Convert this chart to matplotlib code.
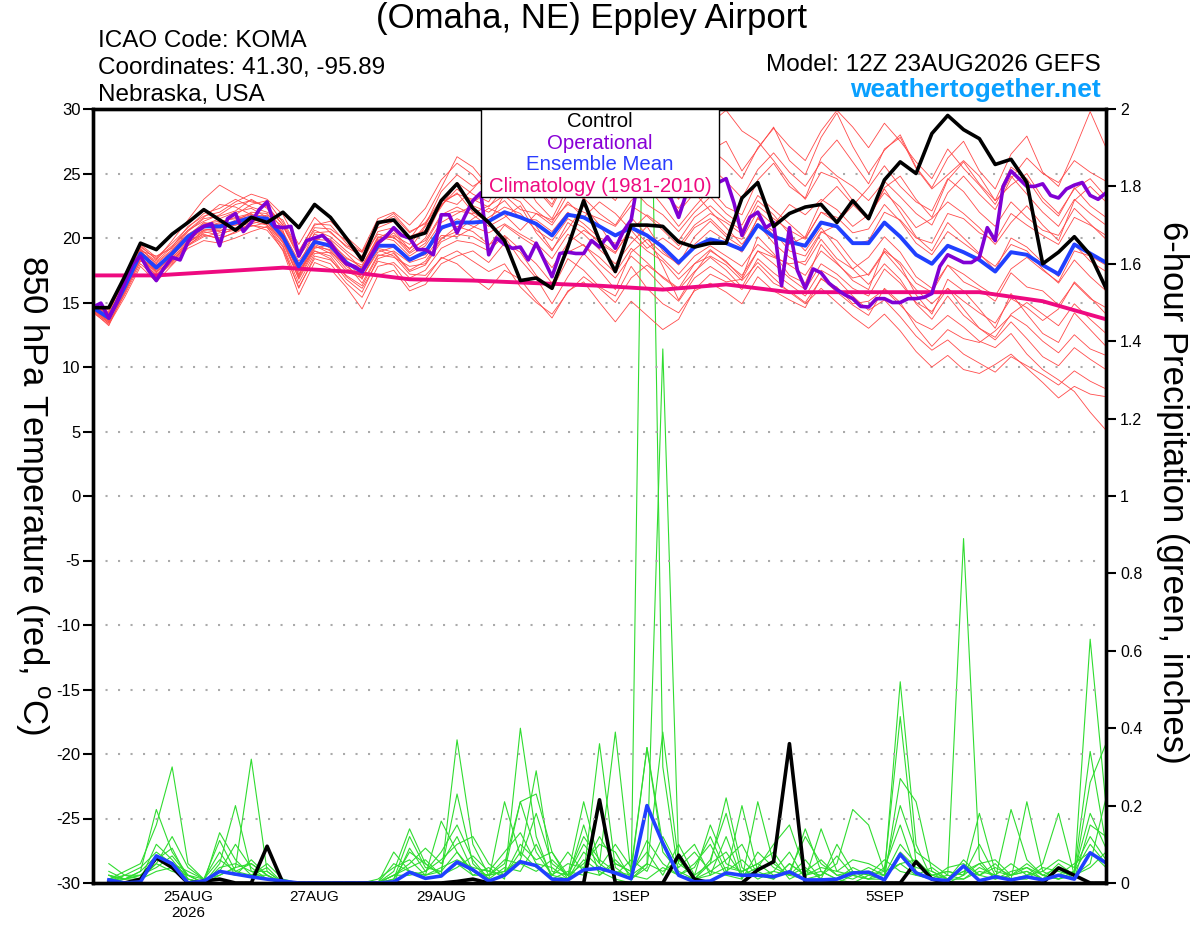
import numpy as np
import pandas as pd
import matplotlib
matplotlib.use("Agg")
import matplotlib.pyplot as plt
from matplotlib.patches import Rectangle

plt.rcParams['font.family'] = ['Liberation Sans', 'DejaVu Sans']
plt.rcParams['axes.unicode_minus'] = False

# time axes: GEFS 6-hourly, operational 3-hourly, from 12Z 23 Aug 2026
times = pd.date_range("2026-08-23 12:00", periods=65, freq="6h")
op_times = pd.date_range("2026-08-23 12:00", periods=129, freq="3h")
ptimes = times[1:]
clim_times = times[::4]

tick_dates = pd.to_datetime(["2026-08-25", "2026-08-27", "2026-08-29", "2026-09-01",
                             "2026-09-03", "2026-09-05", "2026-09-07"])
tick_labels = ["25AUG\n2026", "27AUG", "29AUG", "1SEP", "3SEP", "5SEP", "7SEP"]

# 850 hPa temperature (C)
control = [14.6, 14.6, 17.0, 19.6, 19.1, 20.3, 21.2, 22.2,
           21.4, 20.6, 21.6, 21.2, 22.0, 20.8, 22.6, 21.6,
           20.0, 18.3, 21.2, 21.4, 20.0, 20.4, 22.9, 24.2,
           22.3, 21.2, 19.8, 16.7, 16.9, 16.1, 19.3, 22.9,
           19.8, 17.4, 21.0, 21.0, 20.9, 19.7, 19.3, 19.6,
           19.6, 23.1, 24.3, 20.9, 21.9, 22.4, 22.6, 21.2,
           22.9, 21.5, 24.5, 25.9, 25.0, 28.1, 29.5, 28.4,
           27.7, 25.7, 26.1, 24.3, 18.0, 18.9, 20.1, 18.7, 16.1]

ens_mean = [14.6, 13.8, 16.2, 18.8, 17.7, 18.8, 20.1, 20.9,
            20.9, 21.2, 21.6, 21.5, 20.1, 17.8, 19.7, 19.4,
            18.1, 17.4, 19.4, 19.4, 18.3, 18.9, 20.8, 21.2,
            21.2, 21.3, 22.0, 21.6, 21.1, 20.2, 21.8, 21.6,
            20.9, 20.2, 20.8, 20.2, 19.3, 18.1, 19.3, 19.9,
            19.6, 19.1, 21.0, 20.1, 19.7, 19.4, 21.2, 20.9,
            19.6, 19.6, 21.2, 20.1, 18.7, 18.0, 19.4, 18.9,
            18.3, 17.4, 18.9, 18.7, 17.9, 17.2, 19.5, 18.8, 18.1]

operational = [14.65, 14.95, 13.8, 15.0, 16.5, 18.0, 18.6, 17.5, 16.7, 17.7,
               18.5, 18.3, 19.7, 20.5, 20.9, 21.1, 19.4, 21.5, 21.9, 20.5,
               21.2, 22.2, 22.8, 20.9, 20.8, 20.9, 18.6, 19.8, 20.0, 20.2,
               19.6, 18.7, 18.0, 17.8, 17.4, 18.5, 19.6, 20.1, 20.8, 20.2,
               20.0, 19.1, 19.1, 18.7, 21.8, 21.8, 20.4, 21.7, 22.9, 23.5,
               18.7, 20.0, 19.5, 19.2, 19.3, 18.3, 19.6, 18.3, 17.0, 18.8,
               18.9, 18.8, 18.8, 19.8, 19.3, 20.1, 19.2, 20.5, 21.4, 25.0,
               26.5, 25.5, 23.5, 23.1, 21.6, 23.5, 24.5, 25.0, 24.5, 24.3,
               24.6, 22.7, 20.2, 21.6, 22.0, 20.8, 21.2, 16.3, 20.8, 17.5,
               16.1, 17.6, 17.3, 16.5, 16.0, 15.6, 15.3, 14.7, 14.65, 15.3,
               15.3, 15.0, 15.0, 15.3, 15.3, 15.4, 15.7, 17.8, 18.7, 18.4,
               18.1, 18.1, 18.5, 20.8, 19.8, 24.0, 25.2, 24.6, 24.0, 24.0,
               24.2, 23.3, 23.1, 23.8, 24.1, 24.3, 23.3, 23.0, 23.5]

climatology = [17.1, 17.1, 17.4, 17.7, 17.4, 16.8, 16.7, 16.5, 16.3,
               16.0, 16.4, 15.8, 15.8, 15.8, 15.8, 15.1, 13.7]

temp_members = [
    [14.8, 14.2, 16.8, 19.5, 18.5, 19.6, 20.8, 21.9, 22.3, 23.0, 22.4, 22.0, 21.4, 19.0, 21.0, 21.3,
     20.1, 19.0, 21.5, 22.0, 21.0, 22.3, 24.5, 25.8, 24.9, 23.5, 24.6, 25.9, 23.8, 22.4, 24.8, 26.1,
     25.0, 23.2, 24.8, 26.5, 24.1, 22.0, 24.5, 26.8, 27.5, 25.2, 26.9, 28.6, 26.0, 24.9, 27.8, 29.7,
     27.1, 25.0, 26.8, 28.0, 25.5, 23.9, 26.2, 27.5, 25.2, 23.8, 26.5, 27.9, 25.1, 24.0, 26.8, 29.8, 27.0],
    [14.3, 13.4, 15.6, 18.0, 16.9, 18.2, 19.5, 20.2, 20.0, 20.4, 21.0, 20.6, 19.1, 16.2, 18.4, 18.0,
     16.5, 15.4, 17.8, 18.1, 16.9, 17.5, 19.2, 19.8, 19.6, 19.0, 20.2, 19.1, 18.0, 16.5, 18.9, 19.5,
     18.0, 16.9, 18.6, 17.5, 16.2, 15.1, 16.9, 17.8, 17.0, 16.0, 17.8, 16.5, 15.9, 15.0, 16.8, 16.2,
     14.9, 15.1, 16.0, 14.8, 13.5, 12.9, 14.0, 13.1, 12.0, 11.5, 12.6, 11.0, 9.8, 9.0, 8.1, 6.5, 5.1],
    [14.5, 13.9, 16.5, 19.2, 18.0, 19.0, 20.5, 21.5, 21.7, 22.1, 23.0, 22.3, 20.6, 17.0, 19.9, 19.8,
     18.3, 16.8, 19.5, 20.4, 18.9, 20.0, 22.6, 23.5, 22.0, 21.2, 23.4, 22.8, 20.9, 19.1, 20.7, 22.5,
     21.0, 19.1, 21.6, 20.2, 17.8, 15.2, 17.3, 19.0, 18.2, 16.9, 20.1, 18.8, 17.1, 16.5, 19.5, 18.1,
     16.7, 16.0, 19.2, 17.9, 15.6, 14.1, 16.8, 15.9, 14.5, 13.0, 15.7, 14.1, 12.6, 11.9, 14.2, 12.9, 11.6],
    [14.9, 14.0, 16.0, 18.5, 17.5, 18.6, 19.9, 20.6, 20.8, 21.0, 21.4, 21.2, 19.8, 17.4, 19.5, 19.0,
     17.6, 17.2, 19.8, 20.2, 19.5, 21.0, 23.6, 24.9, 24.0, 24.8, 26.2, 25.0, 23.9, 22.6, 25.1, 26.7,
     25.2, 23.6, 26.0, 27.4, 26.1, 24.8, 27.0, 28.9, 29.9, 28.3, 27.5, 26.0, 24.3, 23.0, 25.1, 24.6,
     22.9, 21.5, 23.8, 22.0, 20.1, 19.0, 21.2, 20.0, 18.8, 17.5, 20.0, 19.3, 18.1, 17.0, 19.5, 18.2, 17.4],
    [14.4, 13.5, 16.1, 18.7, 17.8, 18.9, 20.0, 20.7, 20.5, 21.3, 22.0, 21.9, 20.3, 17.5, 19.0, 18.6,
     17.0, 16.1, 18.2, 17.9, 16.2, 16.8, 18.5, 18.0, 16.9, 16.0, 17.5, 16.8, 15.2, 13.8, 15.9, 16.6,
     15.0, 13.5, 15.1, 14.0, 12.9, 13.7, 16.0, 17.2, 16.6, 16.8, 19.0, 18.5, 18.0, 18.2, 20.4, 21.0,
     19.5, 19.8, 22.0, 21.4, 20.0, 19.6, 21.9, 21.5, 20.4, 19.8, 21.9, 21.0, 20.2, 19.5, 21.6, 21.0, 20.2],
    [14.7, 13.7, 16.4, 19.0, 17.3, 18.4, 19.8, 20.8, 21.2, 21.6, 21.9, 21.0, 19.4, 16.5, 18.8, 18.9,
     17.9, 17.8, 20.1, 19.8, 18.6, 19.4, 21.2, 21.9, 22.5, 22.0, 22.9, 21.5, 21.4, 20.5, 22.0, 21.1,
     20.0, 19.6, 20.1, 19.0, 18.2, 16.8, 18.0, 18.6, 17.9, 16.7, 18.1, 16.9, 15.8, 14.9, 16.1, 15.0,
     13.9, 13.0, 14.1, 12.8, 11.2, 10.0, 10.9, 9.8, 9.5, 10.2, 11.0, 9.9, 8.8, 7.6, 8.5, 7.9, 7.7],
    [14.6, 14.3, 16.9, 19.4, 18.3, 19.8, 21.4, 23.0, 24.1, 23.4, 22.8, 22.5, 21.0, 18.8, 20.6, 20.1,
     19.0, 18.1, 20.5, 20.8, 19.9, 21.6, 23.9, 26.3, 25.5, 24.0, 23.6, 24.9, 22.8, 21.5, 23.9, 23.1,
     21.9, 21.0, 22.9, 24.0, 22.5, 20.9, 22.4, 23.8, 22.4, 21.8, 24.5, 25.8, 24.0, 23.1, 26.2, 27.6,
     25.9, 24.2, 26.9, 27.8, 25.4, 23.8, 24.9, 26.0, 24.8, 22.9, 24.1, 25.0, 23.1, 21.9, 23.8, 24.6, 23.2],
    [14.5, 13.6, 15.8, 18.2, 17.9, 18.5, 19.6, 20.5, 20.2, 20.8, 21.2, 21.8, 20.9, 18.5, 20.3, 19.9,
     18.8, 17.6, 19.2, 18.9, 17.5, 18.2, 20.0, 20.5, 21.5, 22.3, 21.8, 20.6, 21.9, 21.0, 22.8, 21.6,
     22.8, 21.9, 20.6, 19.2, 20.0, 19.1, 20.8, 21.5, 20.3, 19.9, 22.1, 21.0, 22.6, 21.8, 23.0, 22.2,
     20.9, 21.8, 23.5, 22.4, 20.8, 21.5, 22.8, 21.9, 20.8, 19.5, 21.2, 22.5, 21.0, 19.8, 22.9, 24.0, 22.8],
    [14.2, 13.3, 15.4, 17.8, 16.6, 17.9, 19.2, 19.8, 19.6, 20.0, 20.5, 20.9, 19.0, 15.6, 18.1, 17.6,
     16.2, 14.5, 17.1, 17.5, 15.9, 16.4, 18.0, 18.6, 19.0, 18.1, 19.6, 18.9, 17.1, 16.0, 18.4, 17.5,
     16.2, 15.5, 17.8, 16.1, 14.9, 14.2, 15.9, 16.5, 15.8, 14.9, 17.0, 15.9, 15.2, 14.6, 16.9, 15.8,
     14.8, 14.0, 16.1, 15.0, 13.1, 11.6, 12.9, 12.2, 11.9, 12.8, 14.0, 13.2, 12.0, 11.1, 12.5, 11.4, 10.9],
    [14.8, 14.1, 16.3, 18.9, 18.1, 19.1, 20.3, 21.0, 21.5, 22.0, 22.3, 21.6, 20.5, 18.2, 19.9, 19.2,
     18.4, 17.9, 20.0, 20.6, 19.1, 20.9, 22.5, 23.8, 22.8, 23.5, 25.0, 24.1, 23.2, 24.6, 26.8, 27.9,
     26.5, 27.8, 28.9, 26.1, 24.0, 22.0, 23.5, 22.1, 20.8, 19.5, 21.1, 19.6, 18.5, 17.9, 19.9, 18.4,
     17.6, 18.5, 20.1, 18.9, 17.0, 16.1, 17.9, 16.6, 16.0, 15.1, 17.3, 16.2, 15.9, 14.8, 16.5, 15.3, 14.6],
    [14.6, 13.9, 16.6, 19.1, 17.6, 18.7, 20.2, 21.2, 21.0, 21.8, 22.6, 22.9, 21.2, 18.9, 21.1, 21.0,
     19.6, 18.4, 20.3, 20.0, 19.2, 19.8, 21.8, 22.4, 21.8, 20.9, 21.6, 22.5, 20.4, 19.0, 21.2, 20.3,
     19.1, 18.0, 19.6, 20.9, 19.0, 17.9, 19.5, 20.6, 19.8, 18.9, 21.6, 20.2, 19.5, 20.1, 22.8, 24.0,
     22.6, 21.4, 23.9, 24.8, 23.0, 21.6, 24.5, 25.9, 24.2, 22.9, 25.5, 24.6, 22.8, 21.7, 23.9, 22.5, 21.6],
    [14.3, 13.2, 15.9, 18.4, 17.4, 18.2, 19.4, 20.4, 20.6, 20.7, 20.9, 21.2, 19.6, 16.9, 19.2, 19.5,
     18.0, 16.5, 18.7, 18.5, 17.8, 18.0, 19.9, 20.9, 20.5, 19.5, 20.1, 18.3, 16.9, 14.9, 17.0, 18.8,
     17.5, 16.0, 18.9, 19.9, 18.8, 18.0, 20.1, 21.3, 20.1, 19.3, 21.5, 20.5, 19.0, 18.6, 20.5, 19.8,
     18.2, 17.1, 18.9, 17.5, 16.0, 14.9, 16.1, 14.5, 13.0, 12.1, 13.5, 12.2, 10.8, 10.1, 11.5, 10.6, 9.8],
    [14.9, 14.4, 16.7, 19.3, 18.4, 19.4, 20.6, 21.6, 22.6, 22.4, 21.8, 21.4, 20.0, 17.9, 20.4, 20.5,
     19.3, 18.6, 21.0, 21.7, 20.4, 21.2, 23.0, 22.6, 23.8, 25.2, 26.4, 25.1, 24.6, 23.0, 24.3, 23.0,
     24.2, 25.1, 23.9, 22.6, 21.8, 20.5, 22.0, 23.2, 21.9, 21.0, 23.3, 22.2, 21.1, 20.0, 22.0, 21.2,
     22.5, 23.9, 25.6, 24.0, 22.8, 22.1, 24.6, 23.6, 22.0, 20.9, 22.8, 21.6, 20.6, 20.2, 22.3, 21.1, 19.9],
    [14.4, 13.7, 16.0, 18.6, 17.2, 18.1, 19.7, 20.3, 19.9, 20.5, 21.0, 20.8, 19.3, 16.1, 18.6, 18.3,
     17.1, 16.3, 18.6, 19.0, 18.1, 18.5, 20.2, 20.1, 20.8, 21.6, 22.4, 21.9, 20.6, 19.8, 21.5, 20.8,
     19.6, 18.8, 20.9, 19.6, 18.4, 17.2, 18.6, 19.4, 18.6, 17.8, 19.5, 18.6, 17.9, 17.1, 19.0, 18.0,
     16.9, 17.2, 19.0, 18.1, 16.5, 15.8, 17.9, 17.2, 16.3, 15.5, 17.6, 18.5, 17.5, 16.6, 19.0, 18.6, 17.9],
    [14.7, 14.0, 16.5, 19.1, 18.2, 19.3, 20.9, 21.7, 22.0, 22.8, 23.4, 23.0, 21.8, 19.5, 21.6, 20.4,
     19.4, 18.9, 21.1, 21.9, 20.5, 21.1, 22.8, 23.4, 23.0, 22.4, 23.9, 23.3, 22.1, 21.2, 23.4, 24.8,
     24.0, 22.9, 24.9, 25.9, 24.6, 23.0, 25.4, 26.9, 25.9, 24.6, 27.0, 28.5, 27.1, 26.0, 28.3, 29.9,
     28.6, 27.0, 28.9, 27.5, 25.9, 24.6, 26.9, 25.4, 24.1, 22.6, 24.8, 23.4, 22.0, 20.9, 23.0, 21.9, 21.0],
    [14.5, 13.5, 16.2, 18.6, 17.0, 18.0, 19.4, 20.1, 20.4, 20.6, 21.1, 21.4, 20.2, 17.2, 19.4, 18.8,
     17.4, 16.9, 19.1, 18.6, 17.2, 17.1, 18.4, 19.0, 18.2, 17.4, 18.0, 16.2, 15.0, 14.1, 15.8, 17.0,
     16.1, 15.0, 16.9, 17.9, 17.0, 16.1, 18.0, 19.1, 18.1, 17.1, 19.0, 18.0, 16.9, 16.0, 18.0, 17.2,
     16.1, 15.5, 17.6, 16.5, 15.0, 14.3, 16.1, 15.1, 14.2, 13.4, 15.3, 14.6, 13.6, 14.5, 16.6, 15.4, 14.1],
    [14.6, 13.8, 16.0, 18.9, 17.9, 18.7, 20.0, 21.1, 21.3, 21.5, 21.8, 21.7, 20.4, 18.0, 19.6, 19.6,
     18.5, 17.7, 19.9, 20.1, 18.8, 19.6, 21.7, 22.1, 21.9, 22.5, 23.3, 22.2, 21.9, 21.4, 22.6, 22.0,
     21.5, 20.9, 22.5, 21.7, 20.6, 19.4, 21.0, 21.9, 21.2, 20.3, 22.5, 21.5, 20.6, 19.9, 22.0, 21.6,
     20.4, 20.7, 22.6, 21.3, 19.6, 18.7, 20.5, 19.6, 18.7, 17.8, 19.5, 19.0, 17.6, 16.5, 18.3, 17.0, 15.9],
    [14.5, 13.6, 16.3, 18.9, 17.4, 18.6, 20.0, 20.9, 21.1, 21.0, 21.3, 21.0, 19.7, 17.1, 19.3, 19.1,
     17.8, 17.0, 18.9, 19.3, 18.4, 18.7, 20.6, 21.5, 20.9, 20.4, 21.1, 20.3, 19.6, 18.4, 20.3, 19.4,
     18.5, 17.3, 19.2, 18.1, 16.9, 16.0, 17.4, 18.5, 17.5, 16.2, 18.4, 17.3, 16.4, 15.5, 17.5, 16.8,
     15.5, 14.4, 15.2, 13.9, 12.4, 11.3, 12.1, 11.0, 10.3, 9.6, 10.8, 10.1, 9.4, 8.6, 9.7, 8.9, 8.3],
    [14.7, 14.1, 16.6, 19.0, 18.6, 19.2, 20.6, 21.3, 21.8, 22.6, 22.9, 22.4, 21.0, 18.6, 20.8, 20.7,
     19.8, 18.9, 20.8, 21.3, 20.1, 20.6, 22.4, 24.3, 23.4, 22.8, 24.9, 26.5, 24.8, 23.6, 25.7, 24.6,
     23.2, 24.4, 26.8, 25.1, 23.5, 22.3, 24.2, 25.5, 24.4, 23.1, 25.3, 26.6, 25.1, 24.0, 25.9, 24.8,
     24.0, 22.9, 24.4, 23.2, 21.9, 21.0, 23.5, 24.8, 23.4, 22.2, 24.6, 26.2, 25.0, 24.3, 26.0, 25.1, 24.4],
    [14.4, 13.4, 15.7, 18.3, 17.1, 18.3, 19.6, 20.6, 20.7, 21.4, 21.7, 21.3, 19.9, 16.8, 19.0, 18.4,
     16.8, 15.8, 18.4, 18.8, 17.4, 17.9, 19.7, 20.3, 20.1, 19.4, 21.0, 20.1, 19.3, 17.7, 19.6, 20.6,
     19.8, 18.9, 20.6, 21.8, 20.9, 19.8, 21.6, 22.5, 21.4, 20.6, 22.9, 21.8, 20.3, 19.0, 20.8, 19.2,
     17.6, 16.4, 18.0, 16.8, 14.9, 13.7, 15.5, 14.0, 13.0, 12.3, 14.1, 15.0, 14.1, 13.2, 14.9, 13.7, 12.6],
]

# 6-hour precipitation (inches), valid from 18Z 23 Aug
precip_control = [0, 0, 0.01, 0.065, 0.04, 0, 0.005, 0.01,
                  0, 0, 0.095, 0, 0, 0, 0, 0,
                  0, 0, 0, 0, 0, 0, 0.004, 0.01,
                  0, 0, 0, 0, 0, 0, 0, 0.215,
                  0, 0, 0, 0, 0.072, 0.01, 0, 0,
                  0, 0.034, 0.055, 0.36, 0, 0, 0, 0,
                  0, 0, 0, 0.055, 0.01, 0, 0, 0,
                  0, 0, 0, 0, 0.039, 0.02, 0, 0]

precip_mean = [0.008, 0.0, 0.003, 0.07, 0.05, 0.0, 0.005, 0.03,
               0.023, 0.016, 0.01, 0.005, 0.0, 0.0, 0.0, 0.0,
               0.0, 0.0, 0.003, 0.028, 0.012, 0.018, 0.054, 0.034,
               0.005, 0.02, 0.055, 0.045, 0.01, 0.008, 0.034, 0.038,
               0.026, 0.011, 0.2, 0.103, 0.02, 0.003, 0.005, 0.026,
               0.02, 0.02, 0.016, 0.029, 0.008, 0.008, 0.01, 0.026,
               0.028, 0.008, 0.074, 0.026, 0.01, 0.006, 0.044, 0.006,
               0.016, 0.008, 0.016, 0.008, 0.02, 0.01, 0.078, 0.052]

precip_members = [
    [0.02, 0.01, 0.03, 0.19, 0.08, 0.02, 0, 0.05, 0.2, 0.03, 0.01, 0, 0, 0, 0, 0,
     0, 0, 0.03, 0.14, 0.05, 0.02, 0.37, 0.1, 0.02, 0.05, 0.21, 0.08, 0.02, 0.01, 0.06, 0.03,
     0.01, 0, 2.8, 0.3, 0.02, 0.01, 0.05, 0.22, 0.04, 0.01, 0.03, 0.02, 0.06, 0.01, 0, 0.02,
     0.01, 0.02, 0.52, 0.1, 0.01, 0, 0.02, 0.05, 0.01, 0.03, 0.04, 0.01, 0.02, 0.03, 0.34, 0.1],
    [0.01, 0.03, 0.05, 0.15, 0.3, 0.05, 0.01, 0.02, 0.04, 0.32, 0.03, 0, 0, 0, 0, 0,
     0, 0, 0.08, 0.03, 0.02, 0.16, 0.08, 0.02, 0.04, 0.01, 0.4, 0.12, 0.01, 0.03, 0.02, 0.36,
     0.04, 0.01, 0.05, 1.38, 0.06, 0.01, 0.03, 0.02, 0.2, 0.03, 0.01, 0.05, 0.02, 0.03, 0.01, 0,
     0.02, 0.03, 0.43, 0.05, 0.02, 0.01, 0.03, 0.02, 0.05, 0.01, 0.21, 0.03, 0.01, 0.02, 0.63, 0.2],
    [0.05, 0.02, 0.01, 0.1, 0.06, 0.01, 0, 0.13, 0.06, 0.02, 0.05, 0.01, 0, 0, 0, 0,
     0, 0, 0.01, 0.12, 0.04, 0.03, 0.23, 0.05, 0.01, 0.21, 0.07, 0.29, 0.03, 0.02, 0.21, 0.05,
     0.39, 0.02, 0.01, 0.04, 0.02, 0.05, 0.1, 0.02, 0.01, 0.21, 0.05, 0.02, 0.01, 0.14, 0.03, 0.02,
     0.01, 0.01, 0.27, 0.21, 0.03, 0.01, 0.01, 0.04, 0.02, 0.01, 0.02, 0.05, 0.18, 0.02, 0.26, 0.36],
    [0, 0.02, 0.04, 0.08, 0.05, 0.02, 0.01, 0.11, 0.03, 0.05, 0.02, 0, 0, 0, 0, 0,
     0, 0, 0.02, 0.05, 0.09, 0.05, 0.12, 0.03, 0.02, 0.03, 0.21, 0.23, 0.08, 0.01, 0.15, 0.02,
     0.05, 0.03, 0.35, 0.1, 0.02, 0.01, 0.06, 0.18, 0.02, 0.04, 0.1, 0.15, 0.03, 0.02, 0.05, 0.19,
     0.15, 0.03, 0.05, 0.02, 0.01, 0.02, 0.89, 0.06, 0.01, 0.02, 0.03, 0.01, 0.02, 0.05, 0.08, 0.04],
    [0.02, 0.01, 0.02, 0.06, 0.09, 0.01, 0, 0.03, 0.1, 0.04, 0.01, 0, 0, 0, 0, 0,
     0, 0, 0, 0.09, 0.03, 0.06, 0.1, 0.12, 0.05, 0.02, 0.1, 0.06, 0.08, 0.02, 0.05, 0.1,
     0.08, 0.01, 0.04, 0.39, 0.05, 0.02, 0.15, 0.05, 0.03, 0.05, 0.02, 0.03, 0.12, 0.05, 0.02, 0.01,
     0.03, 0.02, 0.1, 0.05, 0.02, 0.03, 0.02, 0.18, 0.03, 0.02, 0.05, 0.02, 0.04, 0.01, 0.15, 0.12],
    [0.03, 0.01, 0.01, 0.05, 0.12, 0.04, 0.01, 0.08, 0.02, 0.06, 0.02, 0, 0, 0, 0, 0,
     0, 0, 0.05, 0.03, 0.02, 0.04, 0.06, 0.04, 0.03, 0.08, 0.13, 0.05, 0.04, 0.01, 0.08, 0.04,
     0.1, 0.04, 0.35, 0.08, 0.03, 0.01, 0.02, 0.12, 0.01, 0.08, 0.04, 0.02, 0.14, 0.03, 0.01, 0.04,
     0.02, 0.01, 0.08, 0.04, 0.03, 0.01, 0.06, 0.02, 0.01, 0.19, 0.06, 0.02, 0.01, 0.03, 0.1, 0.05],
    [0.01, 0.02, 0.02, 0.04, 0.07, 0.02, 0, 0.04, 0.05, 0.03, 0.03, 0, 0, 0, 0, 0,
     0, 0, 0.01, 0.08, 0.05, 0.02, 0.05, 0.02, 0.02, 0.03, 0.06, 0.18, 0.05, 0.02, 0.12, 0.06,
     0.03, 0.02, 0.11, 0.05, 0.02, 0.04, 0.12, 0.03, 0.06, 0.02, 0.01, 0.05, 0.02, 0.04, 0.03, 0.06,
     0.05, 0.03, 0.2, 0.08, 0.05, 0.02, 0.01, 0.03, 0.02, 0.01, 0.01, 0.04, 0.03, 0.02, 0.05, 0.22],
    [0, 0.01, 0.03, 0.07, 0.05, 0.03, 0.01, 0.06, 0.03, 0.02, 0.02, 0, 0, 0, 0, 0,
     0, 0, 0.02, 0.02, 0.03, 0.08, 0.15, 0.06, 0.01, 0.04, 0.03, 0.1, 0.02, 0.05, 0.04, 0.12,
     0.05, 0.03, 0.08, 0.02, 0.1, 0.02, 0.05, 0.08, 0.02, 0.03, 0.06, 0.01, 0.03, 0.06, 0.02, 0.03,
     0.01, 0.04, 0.15, 0.03, 0.01, 0.04, 0.05, 0.02, 0.04, 0.02, 0.03, 0.01, 0.05, 0.02, 0.04, 0.08],
    [0.02, 0, 0.01, 0.03, 0.04, 0.01, 0, 0.02, 0.04, 0.05, 0.02, 0, 0, 0, 0, 0,
     0, 0.01, 0.04, 0.06, 0.02, 0.03, 0.08, 0.03, 0.02, 0.06, 0.05, 0.03, 0.06, 0.02, 0.1, 0.05,
     0.02, 0.06, 0.03, 0.12, 0.04, 0.08, 0.03, 0.06, 0.1, 0.02, 0.03, 0.08, 0.01, 0.02, 0.07, 0.02,
     0.04, 0.02, 0.05, 0.06, 0.02, 0.03, 0.02, 0.1, 0.02, 0.05, 0.02, 0.03, 0.06, 0.04, 0.12, 0.06],
    [0.01, 0.01, 0.02, 0.05, 0.03, 0.02, 0, 0.03, 0.02, 0.02, 0.04, 0, 0, 0, 0, 0,
     0, 0, 0.02, 0.04, 0.06, 0.02, 0.04, 0.07, 0.03, 0.02, 0.08, 0.04, 0.02, 0.08, 0.03, 0.02,
     0.06, 0.02, 0.05, 0.03, 0.06, 0.1, 0.02, 0.04, 0.03, 0.05, 0.08, 0.02, 0.04, 0.01, 0.1, 0.03,
     0.02, 0.06, 0.03, 0.02, 0.04, 0.01, 0.03, 0.05, 0.06, 0.02, 0.04, 0.02, 0.01, 0.03, 0.18, 0.09],
]

prec_ticks = [0, 0.2, 0.4, 0.6, 0.8, 1.0, 1.2, 1.4, 1.6, 1.8, 2.0]
temp_ticks = list(range(-30, 31, 5))

legend_labels = ["Control", "Operational", "Ensemble Mean", "Climatology (1981-2010)"]
legend_colors = ["black", "#8800d6", "#2a3cff", "#ee0a80"]

# ---- figure ----
fig = plt.figure(figsize=(12, 9.27), dpi=100)
ax = fig.add_axes([93 / 1200, 44 / 927, 1013 / 1200, 774 / 927])
ax2 = ax.twinx()
ax.set_zorder(ax2.get_zorder() + 1)
ax.patch.set_visible(False)

# precipitation (right axis, drawn underneath)
for m in precip_members:
    ax2.plot(ptimes, m, color="#30dc30", lw=0.8)
ax2.plot(ptimes, precip_control, color="black", lw=2.6)
ax2.plot(ptimes, precip_mean, color="#2040ff", lw=2.6)

# temperature (left axis)
for m in temp_members:
    ax.plot(times, m, color="#ff4a4a", lw=0.6)
ax.plot(clim_times, climatology, color="#ee0a80", lw=2.8)
ax.plot(times, ens_mean, color="#2040ff", lw=2.8)
ax.plot(op_times, operational, color="#8000d4", lw=2.6)
ax.plot(times, control, color="black", lw=2.6)

ax.set_xlim(times[0], times[-1])
ax.set_ylim(-30, 30)
ax2.set_ylim(0, 2)

ax.set_yticks(temp_ticks)
ax.tick_params(axis="y", direction="out", length=7, width=1.5, labelsize=12, pad=2)
ax.set_xticks(tick_dates)
ax.set_xticklabels(tick_labels)
ax.tick_params(axis="x", length=0, labelsize=11, pad=5)
ax.grid(axis="y", linestyle=(0, (1, 5)), color="#aaaaaa", lw=1.5)

ax2.set_yticks(prec_ticks)
ax2.set_yticklabels([f"{v:g}" for v in prec_ticks])
ax2.tick_params(axis="y", direction="out", length=7, width=1.5, labelsize=11.5, pad=3)

for a in (ax, ax2):
    for s in a.spines.values():
        s.set_linewidth(2.4)

# legend box
ax.add_patch(Rectangle((0.383, 0.886), 0.235, 0.114, transform=ax.transAxes,
                       facecolor="white", edgecolor="black", lw=1.0, zorder=10))
for k, (lab, col) in enumerate(zip(legend_labels, legend_colors)):
    ax.text(0.5005, 0.9767 - k * 0.0279, lab, color=col, fontsize=14.7,
            ha="center", va="baseline", transform=ax.transAxes, zorder=11)

# header texts
fig.text(0.4925, 0.9698, "(Omaha, NE) Eppley Airport", ha="center", va="baseline", fontsize=25)
fig.text(0.0817, 0.9493, "ICAO Code: KOMA", ha="left", va="baseline", fontsize=17.5)
fig.text(0.0817, 0.9202, "Coordinates: 41.30, -95.89", ha="left", va="baseline", fontsize=17.5)
fig.text(0.0817, 0.8910, "Nebraska, USA", ha="left", va="baseline", fontsize=17.5)
fig.text(0.9175, 0.9234, "Model: 12Z 23AUG2026 GEFS", ha="right", va="baseline", fontsize=17.5)
fig.text(0.9175, 0.8954, "weathertogether.net", ha="right", va="baseline", fontsize=19,
         fontweight="bold", color="#0aa0ff")

# axis titles (both read top to bottom)
fig.text(32 / 1200, 1 - 495 / 927, r"850 hPa Temperature (red, $^\mathregular{o}$C)",
         rotation=-90, ha="center", va="center", fontsize=25)
fig.text(1172 / 1200, 1 - 492 / 927, "6-hour Precipitation (green, inches)",
         rotation=-90, ha="center", va="center", fontsize=25)

fig.savefig("out.png", dpi=100)
